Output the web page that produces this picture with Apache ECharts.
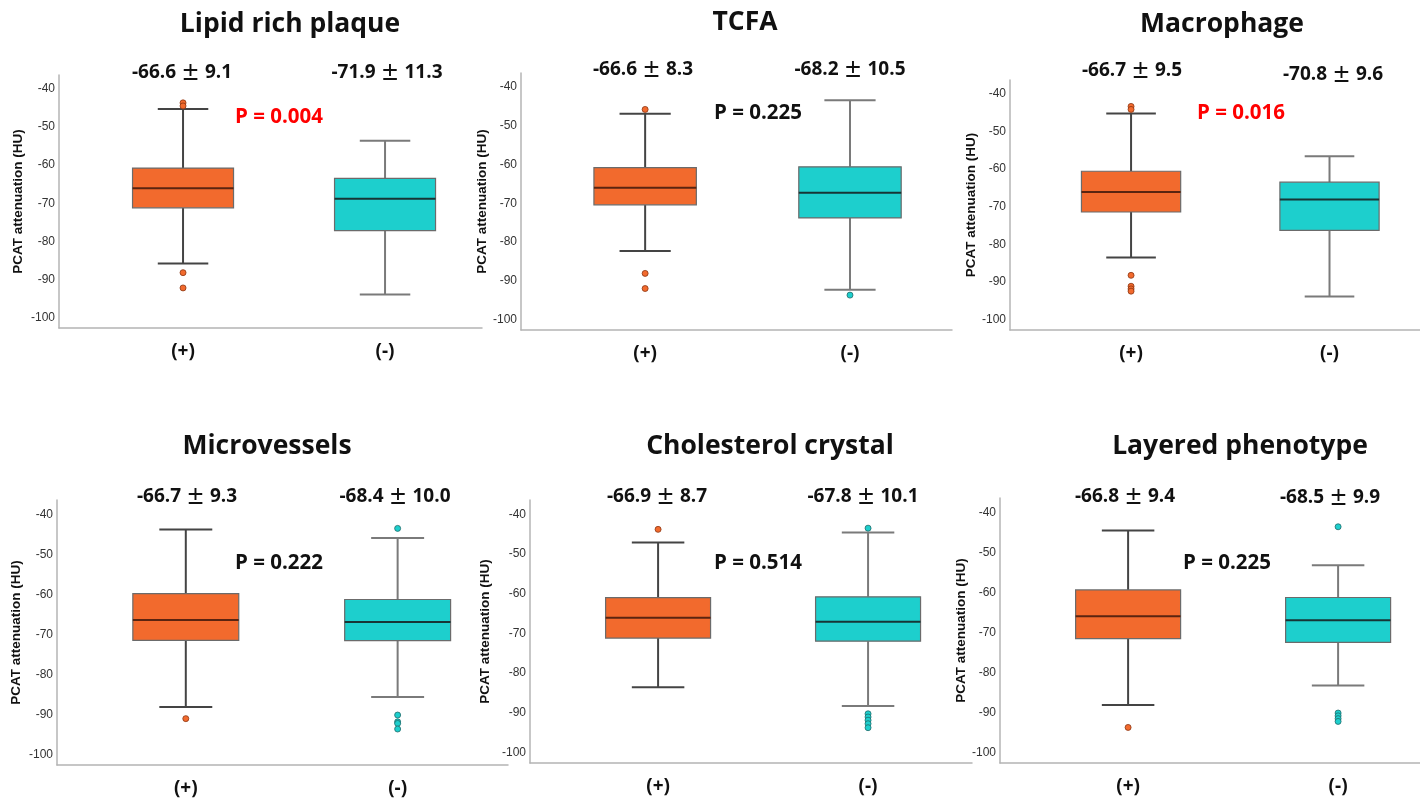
<!DOCTYPE html>
<html>
<head>
<meta charset="utf-8">
<title>PCAT attenuation</title>
<script src="https://cdn.jsdelivr.net/npm/echarts@6/dist/echarts.min.js"></script>
<style>
  html, body { margin: 0; padding: 0; background: #fff; }
  #main { width: 1420px; height: 803px; }
</style>
</head>
<body>
<div id="main"></div>
<script>
// categories and panel names
const groups = ['(+)', '(-)']
const titles = ['Lipid rich plaque', 'TCFA', 'Macrophage', 'Microvessels', 'Cholesterol crystal', 'Layered phenotype']
const yTicks = [-100, -90, -80, -70, -60, -50, -40]

// box stats per panel: [min whisker, Q1, median, Q3, max whisker] for (+) and (-)
const posBoxes = [
  [-85.8, -71.2, -66.1, -60.8, -45.3],
  [-82.3, -70.4, -66.0, -60.8, -46.9],
  [-83.5, -71.4, -66.1, -60.6, -45.3],
  [-88.2, -71.5, -66.4, -59.8, -43.8],
  [-83.6, -71.2, -66.1, -61.0, -47.1],
  [-88.2, -71.6, -66.0, -59.4, -44.5]
]
const negBoxes = [
  [-93.9, -77.2, -68.8, -63.5, -53.6],
  [-92.3, -73.8, -67.3, -60.6, -43.4],
  [-93.8, -76.3, -68.1, -63.5, -56.6],
  [-85.7, -71.6, -66.9, -61.3, -45.9],
  [-88.3, -72.0, -67.1, -60.8, -44.6],
  [-83.3, -72.5, -67.0, -61.3, -53.2]
]
// outliers
const posOutliers = [
  [-43.7, -44.5, -88.2, -92.2],
  [-45.8, -88.1, -92.0],
  [-43.4, -44.2, -88.2, -91.1, -91.8, -92.4],
  [-91.1],
  [-43.8],
  [-93.8]
]
const negOutliers = [
  [],
  [-93.7],
  [],
  [-43.5, -90.2, -91.9, -92.3, -93.7],
  [-43.5, -90.3, -91.1, -91.9, -92.8, -93.8],
  [-43.6, -90.2, -90.9, -91.6, -92.3]
]
// mean ± SD and p values
const posMean = ['-66.6', '-66.6', '-66.7', '-66.7', '-66.9', '-66.8']
const posSd = ['9.1', '8.3', '9.5', '9.3', '8.7', '9.4']
const negMean = ['-71.9', '-68.2', '-70.8', '-68.4', '-67.8', '-68.5']
const negSd = ['11.3', '10.5', '9.6', '10.0', '10.1', '9.9']
const pValues = ['P = 0.004', 'P = 0.225', 'P = 0.016', 'P = 0.222', 'P = 0.514', 'P = 0.225']
const pSignificant = [true, false, true, false, false, false]

// layout of each panel (pixels)
const layouts = [
  { left: 59, top: 75, width: 423, height: 253, xMin: -0.614, xMax: 1.48, nameGap: 34, title: [290, 24], m1: [182, 73], m2: [387, 73], p: [279, 117] },
  { left: 521, top: 73, width: 431, height: 257, xMin: -0.606, xMax: 1.498, nameGap: 28, title: [745, 22], m1: [643, 70], m2: [850, 70], p: [758, 113] },
  { left: 1010, top: 80, width: 410, height: 250, xMin: -0.61, xMax: 1.456, nameGap: 26, title: [1222, 24], m1: [1132, 71], m2: [1333, 75], p: [1241, 113] },
  { left: 57, top: 500, width: 451, height: 265, xMin: -0.608, xMax: 1.521, nameGap: 34, title: [267, 446], m1: [187, 497], m2: [395, 497], p: [279, 563] },
  { left: 530, top: 500, width: 442, height: 263, xMin: -0.61, xMax: 1.495, nameGap: 38, title: [770, 446], m1: [657, 497], m2: [863, 497], p: [758, 563] },
  { left: 1000, top: 498, width: 420, height: 265, xMin: -0.61, xMax: 1.39, nameGap: 30, title: [1240, 446], m1: [1125, 497], m2: [1330, 498], p: [1227, 563] }
]

const fills = ['#F26A2D', '#1DCFCD']
const medianColors = ['#5a2410', '#173535']
const whiskerColors = ['#444', '#7a7a7a']
const dotBorders = ['#8a3512', '#1f6a6a']
const boldFont = '"Open Sans", "Noto Sans", sans-serif'
const cjkFont = '"Noto Sans CJK SC", sans-serif'

function renderBox (params, api) {
  const x = api.value(0)
  const lo = api.coord([x, api.value(1)])
  const q1 = api.coord([x, api.value(2)])
  const md = api.coord([x, api.value(3)])
  const q3 = api.coord([x, api.value(4)])
  const hi = api.coord([x, api.value(5)])
  const bw = api.size([0.5, 0])[0]
  const cw = bw / 2
  const cx = lo[0]
  const wc = whiskerColors[x]
  return {
    type: 'group',
    children: [
      { type: 'line', shape: { x1: cx, y1: lo[1], x2: cx, y2: q1[1] }, style: { stroke: wc, lineWidth: 2 } },
      { type: 'line', shape: { x1: cx, y1: q3[1], x2: cx, y2: hi[1] }, style: { stroke: wc, lineWidth: 2 } },
      { type: 'line', shape: { x1: cx - cw / 2, y1: lo[1], x2: cx + cw / 2, y2: lo[1] }, style: { stroke: wc, lineWidth: 2 } },
      { type: 'line', shape: { x1: cx - cw / 2, y1: hi[1], x2: cx + cw / 2, y2: hi[1] }, style: { stroke: wc, lineWidth: 2 } },
      { type: 'rect', shape: { x: cx - bw / 2, y: q3[1], width: bw, height: q1[1] - q3[1] }, style: { fill: fills[x], stroke: '#6b6b6b', lineWidth: 1.2 } },
      { type: 'line', shape: { x1: cx - bw / 2, y1: md[1], x2: cx + bw / 2, y2: md[1] }, style: { stroke: medianColors[x], lineWidth: 2 } }
    ]
  }
}

function meanText (x, y, mean, sd) {
  return {
    type: 'text',
    x: x,
    y: y,
    style: {
      text: '{a|' + mean + ' }{b|±}{a| ' + sd + '}',
      align: 'center',
      verticalAlign: 'middle',
      rich: {
        a: { fontFamily: boldFont, fontWeight: 'bold', fontSize: 19, fill: '#111' },
        b: { fontFamily: cjkFont, fontWeight: 'bold', fontSize: 19, fill: '#111' }
      }
    }
  }
}

const option = {
  backgroundColor: '#fff',
  animation: false,
  grid: [],
  xAxis: [],
  yAxis: [],
  series: [],
  graphic: []
}

layouts.forEach((lay, i) => {
  option.grid.push({ left: lay.left, top: lay.top, width: lay.width, height: lay.height })
  option.xAxis.push({
    type: 'value',
    gridIndex: i,
    min: lay.xMin,
    max: lay.xMax,
    axisLine: { show: true, onZero: false, lineStyle: { color: '#b4b4b4', width: 1.5 } },
    axisTick: { show: false },
    splitLine: { show: false },
    axisLabel: {
      customValues: [0, 1],
      formatter: v => groups[Math.round(v)],
      margin: 14,
      color: '#111',
      fontSize: 19,
      fontWeight: 'bold',
      fontFamily: boldFont
    }
  })
  option.yAxis.push({
    type: 'value',
    gridIndex: i,
    min: -102.7,
    max: -36.4,
    name: 'PCAT attenuation (HU)',
    nameLocation: 'middle',
    nameGap: lay.nameGap,
    nameTextStyle: { color: '#111', fontSize: 13.5, fontWeight: 'bold', fontFamily: 'Liberation Sans, Arial, sans-serif' },
    axisLine: { show: true, onZero: false, lineStyle: { color: '#b4b4b4', width: 1.5 } },
    axisTick: { show: false },
    splitLine: { show: false },
    axisLabel: {
      customValues: yTicks,
      margin: 4,
      color: '#333',
      fontSize: 12,
      fontFamily: 'Liberation Sans, Arial, sans-serif'
    }
  })
  option.series.push({
    type: 'custom',
    xAxisIndex: i,
    yAxisIndex: i,
    renderItem: renderBox,
    encode: { x: 0, y: [1, 2, 3, 4, 5] },
    data: [[0].concat(posBoxes[i]), [1].concat(negBoxes[i])]
  })
  const outlierSets = [posOutliers[i], negOutliers[i]]
  outlierSets.forEach((vals, g) => {
    option.series.push({
      type: 'scatter',
      xAxisIndex: i,
      yAxisIndex: i,
      symbolSize: 6,
      z: 5,
      itemStyle: { color: fills[g], borderColor: dotBorders[g], borderWidth: 0.8, opacity: 1 },
      data: vals.map(v => [g, v])
    })
  })
  option.graphic.push(
    { type: 'text', x: lay.title[0], y: lay.title[1], style: { text: titles[i], align: 'center', verticalAlign: 'middle', fill: '#111', font: 'bold 26.5px ' + boldFont } },
    meanText(lay.m1[0], lay.m1[1], posMean[i], posSd[i]),
    meanText(lay.m2[0], lay.m2[1], negMean[i], negSd[i]),
    { type: 'text', x: lay.p[0], y: lay.p[1], style: { text: pValues[i], align: 'center', verticalAlign: 'middle', fill: pSignificant[i] ? '#ff0000' : '#111', font: 'bold 20.5px ' + boldFont } }
  )
})

const chart = echarts.init(document.getElementById('main'))
chart.setOption(option)
</script>
</body>
</html>
